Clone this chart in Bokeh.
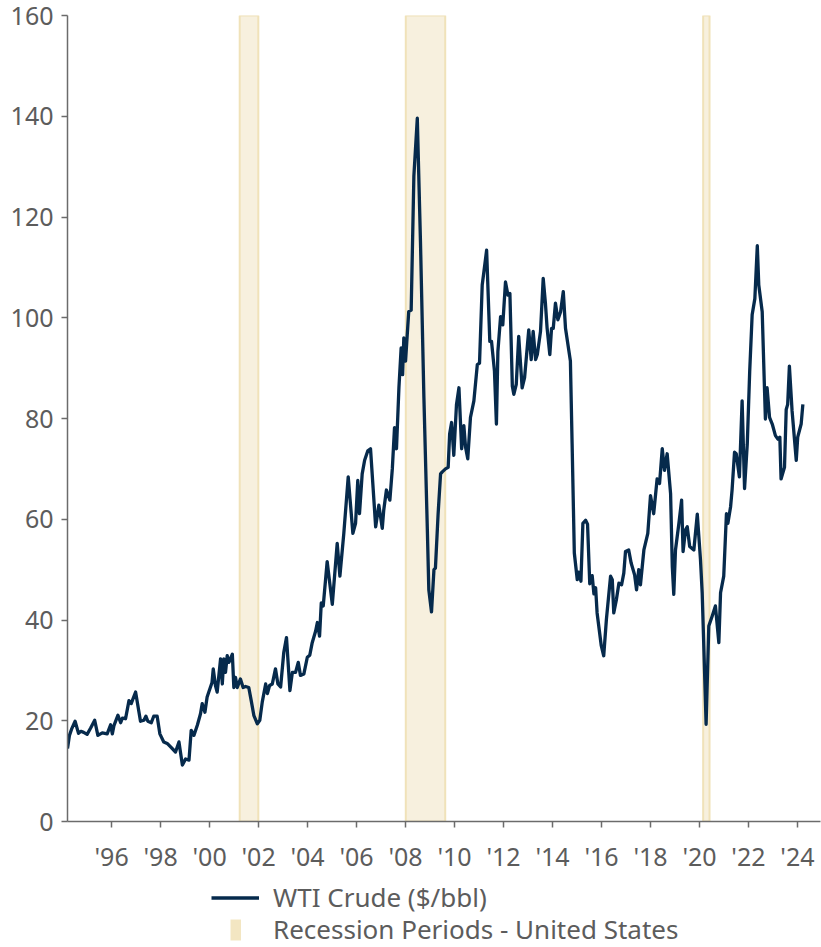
from bokeh.plotting import figure
from bokeh.layouts import column
from bokeh.models import Range1d, FixedTicker, Legend, LegendItem
from bokeh.embed import file_html
from bokeh.resources import INLINE

# ---------------- data ----------------
# decimal-year positions and WTI crude price in $/bbl
dates_1994_2001 = [
    1994.20, 1994.28, 1994.38, 1994.51, 1994.65, 1994.75, 1994.86, 1995.00,
    1995.14, 1995.31, 1995.44, 1995.62, 1995.82, 1995.96, 1996.03, 1996.10,
    1996.26, 1996.37, 1996.44, 1996.57, 1996.71, 1996.80, 1996.98, 1997.18,
    1997.32, 1997.40, 1997.48, 1997.62, 1997.72, 1997.86, 1997.97, 1998.13,
    1998.27, 1998.41, 1998.61, 1998.75, 1998.89, 1999.02, 1999.16, 1999.25,
    1999.36, 1999.50, 1999.63, 1999.70, 1999.81, 1999.90, 2000.10, 2000.15,
    2000.24, 2000.31, 2000.45, 2000.52, 2000.58, 2000.65, 2000.72, 2000.79,
    2000.93, 2000.99, 2001.06, 2001.13, 2001.26, 2001.37, 2001.47, 2001.60,
    2001.70, 2001.81, 2001.95,
]
wti_1994_2001 = [
    14.5, 17.1, 18.5, 19.9, 17.5, 17.9, 17.7, 17.3,
    18.5, 20.1, 17.1, 17.6, 17.4, 19.2, 17.4, 19.1,
    21.1, 19.6, 20.5, 20.4, 24.0, 23.4, 25.7, 19.9,
    20.1, 20.9, 19.9, 19.6, 20.9, 20.9, 17.4, 15.8,
    15.5, 14.8, 13.8, 15.8, 11.2, 12.4, 12.2, 18.1,
    17.1, 19.1, 21.4, 23.4, 21.7, 24.7, 27.6, 30.3,
    27.0, 25.7, 32.3, 27.3, 32.3, 29.6, 32.9, 31.6,
    33.2, 26.6, 28.6, 26.6, 28.3, 26.6, 26.8, 26.6,
    24.0, 21.0, 19.4,
]

dates_2002_2008 = [
    2002.05, 2002.15, 2002.29, 2002.36, 2002.45, 2002.56, 2002.69, 2002.79,
    2002.90, 2003.03, 2003.14, 2003.28, 2003.38, 2003.51, 2003.62, 2003.71,
    2003.85, 2003.99, 2004.09, 2004.19, 2004.33, 2004.40, 2004.49, 2004.56,
    2004.64, 2004.80, 2005.01, 2005.21, 2005.32, 2005.48, 2005.66, 2005.85,
    2005.96, 2006.05, 2006.12, 2006.23, 2006.33, 2006.46, 2006.57, 2006.78,
    2006.91, 2007.05, 2007.11, 2007.22, 2007.36, 2007.46, 2007.55, 2007.63,
    2007.73, 2007.82, 2007.88, 2007.93, 2008.00, 2008.13, 2008.23, 2008.34,
    2008.48, 2008.61, 2008.75, 2008.89, 2008.95,
]
wti_2002_2008 = [
    20.1, 23.7, 27.3, 25.4, 27.0, 27.3, 30.3, 27.3,
    26.7, 33.6, 36.5, 26.0, 29.6, 29.6, 31.6, 29.0,
    29.3, 32.6, 33.0, 35.5, 37.8, 39.5, 36.8, 43.4,
    42.8, 51.6, 43.1, 55.2, 48.7, 57.2, 68.4, 57.2,
    59.2, 67.7, 61.1, 69.0, 71.7, 73.6, 74.0, 58.5,
    62.8, 58.2, 61.8, 65.8, 63.8, 70.0, 78.2, 74.0,
    86.1, 94.0, 88.7, 96.0, 91.4, 101.2, 101.5, 128.1,
    139.6, 115.0, 84.1, 57.9, 46.0,
]

dates_2009_2015 = [
    2009.06, 2009.16, 2009.22, 2009.33, 2009.43, 2009.50, 2009.63, 2009.74,
    2009.80, 2009.88, 2009.97, 2010.08, 2010.18, 2010.29, 2010.38, 2010.45,
    2010.54, 2010.65, 2010.79, 2010.93, 2011.02, 2011.13, 2011.31, 2011.44,
    2011.51, 2011.63, 2011.71, 2011.77, 2011.88, 2011.97, 2012.08, 2012.18,
    2012.26, 2012.36, 2012.42, 2012.52, 2012.62, 2012.76, 2012.86, 2013.03,
    2013.13, 2013.21, 2013.31, 2013.38, 2013.51, 2013.62, 2013.71, 2013.78,
    2013.89, 2013.96, 2014.03, 2014.12, 2014.22, 2014.33, 2014.44, 2014.53,
    2014.73, 2014.80, 2014.89, 2015.01, 2015.07, 2015.16, 2015.24, 2015.35,
    2015.43, 2015.52, 2015.62, 2015.69, 2015.76, 2015.82, 2015.99,
]
wti_2009_2015 = [
    41.6, 50.0, 50.3, 61.1, 69.0, 69.4, 70.0, 70.3,
    76.9, 79.2, 72.7, 82.8, 86.1, 74.0, 78.6, 74.3,
    72.0, 80.2, 83.5, 90.7, 91.0, 106.5, 113.4, 95.3,
    95.3, 89.4, 78.9, 93.3, 100.2, 98.6, 107.1, 104.5,
    104.8, 86.4, 84.8, 86.8, 96.3, 86.1, 88.1, 97.6,
    91.7, 97.3, 91.7, 92.7, 97.3, 107.8, 102.9, 97.9,
    92.7, 97.9, 97.9, 102.9, 99.6, 101.2, 105.2, 97.9,
    91.4, 75.0, 53.3, 48.0, 49.5, 47.7, 59.2, 59.8,
    59.0, 47.2, 48.8, 45.2, 46.4, 41.4, 34.9,
]

dates_2016_2024 = [
    2016.09, 2016.20, 2016.37, 2016.44, 2016.50, 2016.61, 2016.71, 2016.82,
    2016.91, 2016.98, 2017.11, 2017.21, 2017.35, 2017.43, 2017.52, 2017.59,
    2017.73, 2017.89, 2018.00, 2018.13, 2018.27, 2018.37, 2018.48, 2018.57,
    2018.68, 2018.82, 2018.89, 2018.95, 2019.02, 2019.16, 2019.27, 2019.33,
    2019.43, 2019.50, 2019.60, 2019.77, 2019.91, 2020.04, 2020.11, 2020.20,
    2020.27, 2020.38, 2020.52, 2020.65, 2020.79, 2020.86, 2020.99, 2021.10,
    2021.16, 2021.27, 2021.33, 2021.43, 2021.50, 2021.63, 2021.74, 2021.84,
    2021.95, 2022.05, 2022.15, 2022.26, 2022.36, 2022.42, 2022.56, 2022.69,
    2022.76, 2022.86, 2022.97, 2023.10, 2023.20, 2023.28, 2023.33, 2023.47,
    2023.54, 2023.60, 2023.67, 2023.78, 2023.95, 2024.01, 2024.15, 2024.22,
]
wti_2016_2024 = [
    32.9, 40.1, 48.7, 48.0, 41.4, 44.1, 47.3, 47.0,
    49.3, 53.6, 53.9, 51.3, 49.0, 46.0, 50.0, 47.0,
    53.9, 57.2, 64.7, 61.1, 68.0, 67.1, 74.0, 69.7,
    73.0, 65.1, 50.6, 45.1, 53.9, 59.2, 63.8, 53.6,
    57.9, 58.5, 54.6, 53.9, 61.0, 52.0, 45.4, 30.9,
    19.3, 38.8, 40.8, 42.8, 35.5, 45.4, 48.7, 61.1,
    59.2, 62.5, 65.8, 73.3, 73.0, 68.4, 83.5, 66.1,
    74.9, 89.4, 100.6, 103.8, 114.3, 106.5, 101.2, 79.9,
    86.1, 80.2, 78.9, 76.6, 75.9, 76.3, 68.0, 70.3,
    81.8, 82.8, 90.4, 81.5, 71.7, 76.3, 78.9, 82.8,
]

# US recession periods (decimal years)
recession_start = [2001.23, 2008.01, 2020.15]
recession_end = [2001.99, 2009.62, 2020.41]

x_ticks = [1996, 1998, 2000, 2002, 2004, 2006, 2008, 2010, 2012, 2014, 2016, 2018, 2020, 2022, 2024]
x_tick_labels = ["'96", "'98", "'00", "'02", "'04", "'06", "'08", "'10", "'12", "'14", "'16", "'18", "'20", "'22", "'24"]
y_ticks = [0, 20, 40, 60, 80, 100, 120, 140, 160]

x_start, x_end = 1994.20, 2024.94
y_start, y_end = 0, 160

dates = dates_1994_2001 + dates_2002_2008 + dates_2009_2015 + dates_2016_2024
wti = wti_1994_2001 + wti_2002_2008 + wti_2009_2015 + wti_2016_2024

# ---------------- styling ----------------
FONT = "Noto Sans"
TEXT = "#5c5c5c"
AXIS = "#6b6b6b"
NAVY = "#062a4c"
REC_FILL = "#f7f0de"
REC_LINE = "#f0e2b9"
REC_SWATCH = "#f3e6c2"
LINE_W = 3.3

# ---------------- main chart ----------------
p = figure(width=821, height=875, output_backend="svg", toolbar_location=None,
           x_range=Range1d(x_start, x_end), y_range=Range1d(y_start, y_end),
           min_border_left=67, min_border_right=1, min_border_top=15,
           min_border_bottom=48)
p.grid.visible = False
p.outline_line_color = None
p.background_fill_color = "white"
p.border_fill_color = "white"

p.quad(left=recession_start, right=recession_end, bottom=y_start, top=y_end,
       fill_color=REC_FILL, line_color=REC_LINE, line_width=2)
p.line(dates, wti, line_color=NAVY, line_width=LINE_W, line_join="round")

for ax in (p.xaxis[0], p.yaxis[0]):
    ax.axis_line_color = AXIS
    ax.axis_line_width = 1.5
    ax.major_tick_line_color = AXIS
    ax.major_tick_line_width = 1.5
    ax.major_tick_in = 0
    ax.major_tick_out = 6
    ax.minor_tick_line_color = None
    ax.major_label_text_font = FONT
    ax.major_label_text_font_size = "25px"
    ax.major_label_text_color = TEXT

p.xaxis.ticker = FixedTicker(ticks=x_ticks)
p.xaxis.major_label_overrides = {t: lab for t, lab in zip(x_ticks, x_tick_labels)}
p.xaxis.major_label_standoff = 11
p.yaxis.ticker = FixedTicker(ticks=y_ticks)
p.yaxis.major_label_standoff = 8

# ---------------- legend strip (no axes; keys are off-range so only the legend shows them) ----------------
lg = figure(width=821, height=72, output_backend="svg", toolbar_location=None,
            x_range=Range1d(0, 1), y_range=Range1d(0, 1),
            x_axis_location=None, y_axis_location=None,
            min_border_left=0, min_border_right=0, min_border_top=0, min_border_bottom=0)
lg.grid.visible = False
lg.outline_line_color = None
lg.background_fill_color = "white"
lg.border_fill_color = "white"

wti_key = lg.line(x=dates[:2], y=wti[:2], line_color=NAVY, line_width=LINE_W)
rec_key = lg.line(x=recession_start[:2], y=recession_end[:2], line_color=REC_SWATCH,
                  line_width=21, line_cap="butt")

def make_legend(items, loc, gw, standoff):
    return Legend(items=items, location=loc, orientation="vertical",
                  glyph_width=gw, glyph_height=33, label_height=33,
                  label_standoff=standoff, padding=0, margin=0, spacing=0,
                  border_line_color=None, background_fill_alpha=0,
                  label_text_font=FONT, label_text_font_size="26px",
                  label_text_color=TEXT)

# the strip's frame is aligned with the main chart's frame (column alignment)
lg.add_layout(make_legend([LegendItem(label="WTI Crude ($/bbl)", renderers=[wti_key])], (144, 32), 48, 14))
lg.add_layout(make_legend([LegendItem(label="Recession Periods - United States", renderers=[rec_key])], (163, 0), 11, 32))

layout = column(p, lg, spacing=0)
open("out.html", "w").write(file_html(layout, INLINE))
